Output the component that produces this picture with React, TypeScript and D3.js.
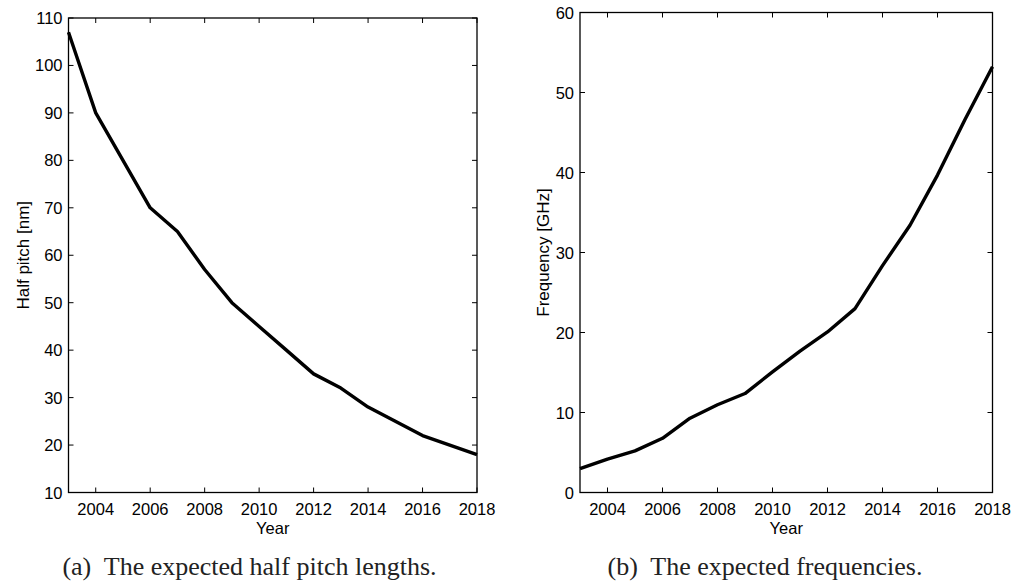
import * as d3 from "d3";
import React from "react";

const years = [2003, 2004, 2005, 2006, 2007, 2008, 2009, 2010, 2011, 2012, 2013, 2014, 2015, 2016, 2017, 2018];
const halfPitch = [107, 90, 80, 70, 65, 57, 50, 45, 40, 35, 32, 28, 25, 22, 20, 18];
const frequency = [2.98, 4.17, 5.2, 6.78, 9.29, 10.97, 12.37, 15.08, 17.67, 20.07, 22.98, 28.36, 33.4, 39.68, 46.63, 53.21];
const xTicks = [2004, 2006, 2008, 2010, 2012, 2014, 2016, 2018];
const pitchTicks = [10, 20, 30, 40, 50, 60, 70, 80, 90, 100, 110];
const freqTicks = [0, 10, 20, 30, 40, 50, 60];

const sans = "Liberation Sans, Arial, sans-serif";
const serif = "Liberation Serif, Times New Roman, serif";
const fs = 16.5;

type PanelProps = {
  box: { left: number; right: number; top: number; bottom: number };
  values: number[];
  yDomain: [number, number];
  yTicks: number[];
  yLabel: string;
  labelX: number;
  caption: string;
  captionX: number;
};

const Panel = ({ box, values, yDomain, yTicks, yLabel, labelX, caption, captionX }: PanelProps) => {
  const x = d3.scaleLinear().domain([2003, 2018]).range([box.left, box.right]);
  const y = d3.scaleLinear().domain(yDomain).range([box.bottom, box.top]);
  const line = d3
    .line<number>()
    .x((d, i) => x(years[i]))
    .y((d) => y(d));
  const tick = 5;
  const midX = (box.left + box.right) / 2;
  const midY = (box.top + box.bottom) / 2;

  return (
    <g>
      <path d={line(values) ?? ""} fill="none" stroke="#000" strokeWidth={3.4} strokeLinejoin="round" />
      <rect
        x={box.left}
        y={box.top}
        width={box.right - box.left}
        height={box.bottom - box.top}
        fill="none"
        stroke="#000"
        strokeWidth={1.3}
      />
      {xTicks.map((t) => (
        <g key={t}>
          <line x1={x(t)} x2={x(t)} y1={box.bottom} y2={box.bottom - tick} stroke="#000" />
          <line x1={x(t)} x2={x(t)} y1={box.top} y2={box.top + tick} stroke="#000" />
          <text x={x(t)} y={box.bottom + 22} textAnchor="middle" fontFamily={sans} fontSize={fs}>
            {t}
          </text>
        </g>
      ))}
      {yTicks.map((t) => (
        <g key={t}>
          <line x1={box.left} x2={box.left + tick} y1={y(t)} y2={y(t)} stroke="#000" />
          <line x1={box.right} x2={box.right - tick} y1={y(t)} y2={y(t)} stroke="#000" />
          <text x={box.left - 6} y={y(t) + 6} textAnchor="end" fontFamily={sans} fontSize={fs}>
            {t}
          </text>
        </g>
      ))}
      <text x={midX} y={box.bottom + 41.5} textAnchor="middle" fontFamily={sans} fontSize={fs}>
        Year
      </text>
      <text
        transform={`translate(${labelX}, ${midY}) rotate(-90)`}
        textAnchor="middle"
        fontFamily={sans}
        fontSize={17}
      >
        {yLabel}
      </text>
      <text
        x={captionX}
        y={575}
        textAnchor="middle"
        fontFamily={serif}
        fontSize={26}
        fill="#222"
        style={{ whiteSpace: "pre" }}
      >
        {caption}
      </text>
    </g>
  );
};

const App = () => {
  return (
    <svg
      width={1014}
      height={581}
      style={{ position: "absolute", left: 0, top: 0, background: "#fff" }}
    >
      <Panel
        box={{ left: 68.5, right: 477, top: 18, bottom: 492.5 }}
        values={halfPitch}
        yDomain={[10, 110]}
        yTicks={pitchTicks}
        yLabel="Half pitch [nm]"
        labelX={28.5}
        caption="(a)  The expected half pitch lengths."
        captionX={249.5}
      />
      <Panel
        box={{ left: 580, right: 992.5, top: 12.5, bottom: 492.5 }}
        values={frequency}
        yDomain={[0, 60]}
        yTicks={freqTicks}
        yLabel="Frequency [GHz]"
        labelX={548.5}
        caption="(b)  The expected frequencies."
        captionX={765}
      />
    </svg>
  );
};

export default App;
